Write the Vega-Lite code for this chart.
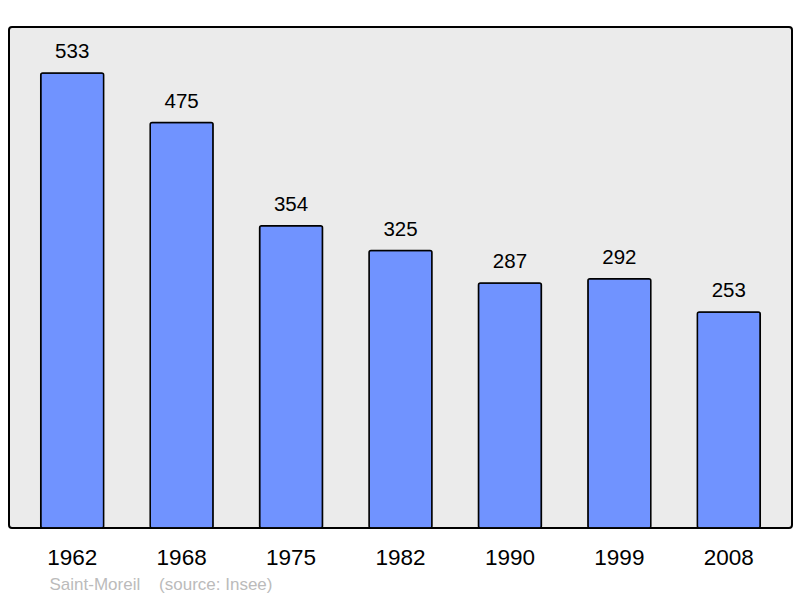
{
  "$schema": "https://vega.github.io/schema/vega-lite/v6.json",
  "width": 783,
  "height": 501,
  "autosize": {"type": "none"},
  "padding": {"left": 9, "top": 27, "right": 8, "bottom": 70},
  "background": "white",
  "config": {
    "view": {"fill": "#EBEBEB", "stroke": "black", "strokeWidth": 2, "cornerRadius": 3},
    "font": "Liberation Sans"
  },
  "data": {
    "values": [
      {"year": "1962", "pop": 533},
      {"year": "1968", "pop": 475},
      {"year": "1975", "pop": 354},
      {"year": "1982", "pop": 325},
      {"year": "1990", "pop": 287},
      {"year": "1999", "pop": 292},
      {"year": "2008", "pop": 253}
    ]
  },
  "encoding": {
    "x": {
      "field": "year",
      "type": "ordinal",
      "sort": null,
      "scale": {"paddingInner": 0.425, "paddingOuter": 0.29},
      "axis": {
        "title": "Saint-Moreil\u00a0\u00a0\u00a0\u00a0(source: Insee)",
        "titleFont": "Liberation Sans",
        "titleFontSize": 17,
        "titleFontWeight": "normal",
        "titleColor": "#BBBBBB",
        "titleAnchor": "start",
        "titleAlign": "left",
        "titleBaseline": "alphabetic",
        "titleX": 40,
        "titleY": 61,
        "labelAngle": 0,
        "labelFontSize": 22.5,
        "labelColor": "black",
        "labelBaseline": "alphabetic",
        "labelPadding": 36,
        "ticks": false,
        "tickSize": 0,
        "domain": false,
        "grid": false
      }
    },
    "y": {
      "field": "pop",
      "type": "quantitative",
      "scale": {"domain": [0, 587], "nice": false},
      "axis": null
    }
  },
  "layer": [
    {
      "mark": {"type": "bar", "fill": "#7093FF", "stroke": "black", "strokeWidth": 1.5, "cornerRadius": 2}
    },
    {
      "mark": {"type": "text", "baseline": "alphabetic", "dy": -15, "fontSize": 20.5, "color": "black"},
      "encoding": {"text": {"field": "pop", "type": "quantitative"}}
    }
  ]
}
